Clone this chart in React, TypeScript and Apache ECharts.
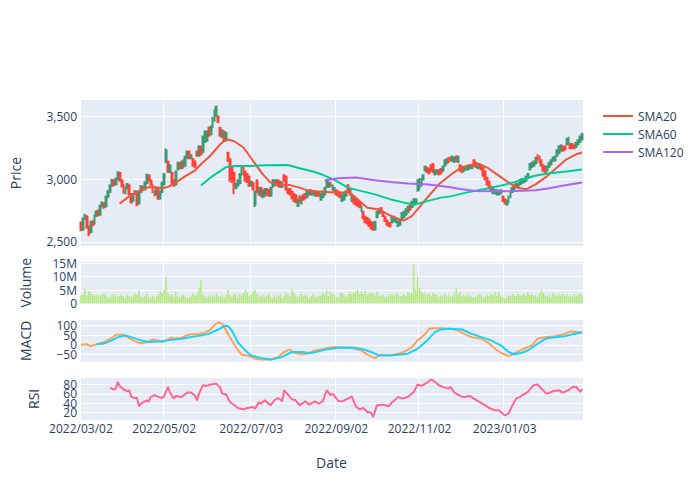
import React, { useEffect, useRef } from "react";
import * as echarts from "echarts";

// ---------- data ----------
const startDate = "2022-03-02"; // first trading day, weekdays only
const tickLabels = ["2022/03/02", "2022/05/02", "2022/07/03", "2022/09/02", "2022/11/02", "2023/01/03"];

// [open, close, low, high]
const ohlc: number[][] = [
  [2650,2600,2585,2665],[2600,2680,2590,2695],[2690,2710,2675,2725],[2700,2620,2605,2715],[2620,2570,2545,2630],
  [2580,2660,2570,2670],[2660,2640,2625,2675],[2650,2710,2640,2720],[2710,2740,2700,2755],[2745,2720,2705,2760],
  [2720,2790,2710,2800],[2790,2810,2775,2825],[2810,2780,2765,2820],[2785,2860,2775,2870],[2860,2900,2850,2915],
  [2900,2950,2890,2960],[2950,2990,2940,3005],[2990,2960,2945,3000],[2960,3000,2950,3015],[3000,3050,2990,3065],
  [3050,2990,2980,3060],[2990,2950,2935,3000],[2950,2900,2885,2960],[2890,2930,2880,2945],[2930,2960,2920,2970],
  [2950,2880,2870,2960],[2880,2820,2805,2890],[2830,2880,2820,2890],[2890,2900,2875,2915],[2900,2800,2785,2910],
  [2810,2900,2800,2910],[2900,2940,2890,2955],[2940,2920,2905,2950],[2920,2970,2910,2985],[2970,3030,2960,3045],
  [3030,2990,2980,3040],[2990,2960,2945,3000],[2950,2900,2890,2960],[2900,2880,2865,2910],[2880,2920,2870,2930],
  [2920,2850,2835,2930],[2850,2900,2840,2910],[2900,2970,2890,2980],[2960,3040,2950,3050],[3140,3230,3130,3245],
  [3140,3060,3050,3150],[3060,3110,3050,3120],[3050,2970,2960,3060],[2990,2950,2940,3000],[2960,3060,2950,3070],
  [3080,3130,3070,3140],[3130,3090,3080,3140],[3090,3140,3080,3150],[3150,3100,3090,3160],[3110,3180,3100,3190],
  [3170,3220,3160,3230],[3220,3170,3160,3230],[3170,3190,3160,3200],[3160,3110,3100,3170],[3140,3100,3090,3150],
  [3220,3190,3180,3230],[3190,3260,3180,3270],[3260,3200,3190,3270],[3220,3340,3210,3350],[3300,3380,3290,3390],
  [3310,3380,3300,3390],[3410,3350,3340,3420],[3360,3420,3350,3430],[3420,3490,3410,3500],[3470,3550,3460,3560],
  [3510,3575,3500,3590],[3500,3460,3450,3510],[3410,3350,3340,3420],[3340,3390,3330,3400],[3380,3310,3300,3390],
  [3310,3370,3300,3380],[3210,3150,3140,3220],[3160,3000,2980,3170],[3090,2990,2970,3100],[3050,2950,2880,3060],
  [2930,2960,2920,2970],[2950,2990,2940,3000],[2970,3040,2960,3050],[3040,3090,3030,3100],[3100,3040,3030,3105],
  [3060,2990,2980,3070],[3040,2980,2970,3050],[3020,2950,2940,3030],[2950,2980,2940,2990],[2970,2920,2910,2980],
  [2800,2900,2780,2910],[2990,2900,2890,3000],[2880,2930,2870,2940],[2930,2870,2860,2940],[2860,2910,2850,2920],
  [2870,2920,2860,2930],[2920,2880,2870,2930],[2910,2870,2860,2920],[2870,2930,2860,2940],[2940,2990,2930,3000],
  [2950,2990,2940,3000],[2960,2990,2950,3000],[2990,2950,2940,3000],[2980,2940,2930,2990],[2940,2970,2930,2980],
  [3030,2990,2980,3040],[3020,2920,2910,3030],[2920,2890,2880,2930],[2920,2880,2870,2930],[2900,2850,2840,2910],
  [2880,2830,2820,2890],[2870,2820,2810,2880],[2790,2840,2780,2850],[2860,2820,2810,2870],[2810,2850,2800,2860],
  [2870,2840,2830,2880],[2880,2850,2840,2890],[2860,2900,2850,2910],[2880,2910,2870,2920],[2910,2880,2870,2920],
  [2880,2900,2870,2910],[2870,2900,2860,2910],[2890,2870,2860,2900],[2890,2870,2860,2900],[2840,2880,2830,2890],
  [2860,2900,2850,2910],[2880,2930,2870,2940],[2940,2990,2930,3000],[2940,2970,2930,2980],[2970,2950,2940,2980],
  [2920,2950,2910,2960],[2910,2930,2900,2940],[2910,2880,2870,2920],[2900,2870,2860,2910],[2890,2860,2850,2900],
  [2830,2870,2820,2880],[2840,2880,2830,2890],[2870,2900,2860,2910],[2950,2900,2890,2960],[2920,2880,2870,2930],
  [2830,2870,2820,2880],[2850,2810,2800,2860],[2840,2800,2790,2850],[2830,2790,2780,2840],[2810,2780,2770,2820],
  [2750,2780,2740,2790],[2740,2690,2680,2750],[2700,2660,2650,2710],[2690,2650,2640,2700],[2680,2630,2620,2690],
  [2660,2610,2600,2670],[2650,2600,2590,2660],[2600,2660,2590,2670],[2700,2740,2690,2750],[2730,2760,2720,2770],
  [2770,2740,2730,2780],[2740,2710,2700,2750],[2700,2670,2660,2710],[2670,2640,2630,2680],[2650,2630,2620,2660],
  [2650,2625,2615,2660],[2660,2700,2650,2710],[2670,2700,2660,2710],[2660,2690,2650,2700],[2630,2660,2620,2670],
  [2640,2670,2630,2680],[2690,2730,2680,2740],[2700,2740,2690,2750],[2720,2760,2710,2770],[2740,2780,2730,2790],
  [2790,2760,2750,2800],[2780,2820,2770,2830],[2800,2840,2790,2850],[2820,2840,2810,2850],[2910,2990,2900,3000],
  [2930,3000,2920,3010],[2950,3000,2940,3010],[3000,3030,2990,3040],[3070,3100,3060,3110],[3090,3060,3050,3100],
  [3080,3050,3040,3090],[3110,3070,3060,3120],[3120,3060,3050,3130],[3040,3070,3030,3080],[3050,3070,3040,3080],
  [3070,3040,3030,3080],[3080,3050,3040,3090],[3070,3100,3060,3110],[3110,3150,3100,3160],[3130,3160,3120,3170],
  [3170,3140,3130,3180],[3170,3150,3140,3180],[3150,3180,3140,3190],[3140,3170,3130,3180],[3180,3150,3140,3190],
  [3140,3180,3130,3190],[3110,3070,3060,3120],[3100,3060,3050,3110],[3070,3090,3060,3100],[3080,3100,3070,3110],
  [3080,3100,3070,3110],[3090,3110,3080,3120],[3090,3110,3080,3120],[3150,3110,3100,3160],[3130,3100,3090,3140],
  [3090,3120,3080,3130],[3100,3120,3090,3130],[3110,3080,3070,3120],[3090,3030,3020,3100],[3060,3000,2990,3070],
  [3010,2960,2950,3020],[2980,2930,2920,2990],[2940,2910,2900,2950],[2890,2920,2880,2930],[2890,2910,2880,2920],
  [2880,2910,2870,2920],[2880,2900,2870,2910],[2890,2910,2880,2920],[2860,2830,2820,2870],[2840,2810,2800,2850],
  [2800,2830,2790,2840],[2820,2860,2810,2870],[2860,2900,2850,2910],[2900,2930,2890,2940],[2920,2950,2910,2960],
  [2960,2940,2930,2970],[2940,2960,2930,2970],[2960,2990,2950,3000],[2970,3000,2960,3010],[2980,3000,2970,3010],
  [2990,3020,2980,3030],[3010,3040,3000,3050],[3080,3120,3070,3130],[3100,3130,3090,3140],[3110,3140,3100,3150],
  [3130,3170,3120,3180],[3190,3160,3150,3200],[3180,3140,3130,3190],[3150,3110,3100,3160],[3110,3070,3060,3120],
  [3100,3060,3050,3110],[3070,3100,3060,3110],[3100,3130,3090,3140],[3120,3150,3110,3160],[3150,3170,3140,3180],
  [3150,3180,3140,3190],[3190,3230,3180,3240],[3210,3260,3200,3270],[3230,3270,3220,3280],[3260,3230,3220,3270],
  [3260,3240,3230,3270],[3280,3320,3270,3330],[3290,3330,3280,3340],[3280,3250,3240,3290],[3280,3250,3240,3290],
  [3270,3250,3240,3280],[3260,3290,3250,3300],[3280,3310,3270,3320],[3300,3340,3290,3350],[3320,3360,3310,3370],
];

// volume, millions
const volumeM = [
  3.1,3.4,5.5,3.0,4.6,3.9,3.5,2.8,3.2,2.6, 3.0,3.3,3.6,2.9,2.4,2.2,3.1,3.5,2.7,2.5,
  2.9,3.2,2.6,2.0,3.3,2.8,2.4,2.9,3.8,3.2, 4.9,2.5,2.3,2.7,3.6,2.4,2.1,2.8,2.2,2.6,
  3.4,4.8,4.0,5.0,10.0,3.8,2.9,3.5,2.4,4.3, 2.6,2.2,2.9,3.1,2.4,2.0,2.2,2.6,3.7,2.9,
  3.4,5.8,9.0,3.2,2.6,2.1,3.1,2.5,3.0,2.7, 3.6,2.8,2.4,3.1,2.2,3.3,5.2,3.0,2.6,3.8,
  3.2,2.1,3.5,2.8,3.9,5.1,4.3,2.7,3.4,4.6, 5.1,3.6,2.4,3.0,3.3,2.5,2.9,3.7,2.6,2.1,
  3.0,2.4,2.8,3.4,2.2,2.9,4.0,3.1,2.6,5.3, 4.2,3.0,2.4,2.9,3.6,2.7,3.2,2.5,2.0,2.6,
  3.3,2.7,2.2,2.9,3.1,4.1,3.5,5.0,2.8,4.3, 3.6,3.1,2.4,2.2,3.8,3.9,3.2,2.5,3.5,4.2,
  3.5,4.0,4.6,5.0,3.6,4.4,3.3,4.7,3.0,3.8, 3.6,3.9,3.2,4.5,3.1,2.7,3.4,2.5,3.0,2.8,
  3.6,3.3,2.9,3.7,3.2,2.6,3.0,3.5,2.9,4.3, 3.7,3.9,14.7,5.2,10.2,5.8,4.4,3.5,4.0,3.3,
  3.6,2.7,3.9,3.4,3.2,2.5,3.0,2.7,3.5,2.9, 3.2,2.5,2.8,3.6,5.7,3.3,4.6,2.6,3.1,2.8,
  3.3,3.0,2.4,2.2,2.5,3.0,3.4,2.9,2.3,2.6, 3.1,2.7,3.8,3.2,4.3,2.8,4.5,3.0,2.4,2.0,
  2.3,2.9,2.7,3.4,3.1,2.8,3.6,2.9,3.3,3.5, 2.9,4.1,3.2,3.4,2.7,3.2,2.3,3.8,5.1,4.0,
  3.1,2.9,3.3,2.5,4.1,3.4,2.7,3.8,3.0,3.6, 2.8,3.3,2.6,3.1,2.4,3.5,2.7,3.2,3.9,3.1,
];

// [trading-day index, value]
const sma20 = [
  [20,2806],[24,2854],[30,2906],[34,2934],[38,2938],[42,2928],[45,2940],[49,2974],[54,3026],[59,3072],
  [62,3120],[67,3190],[72,3280],[75,3320],[79,3306],[84,3254],[89,3146],[94,3040],[98,2974],[103,2954],
  [108,2954],[113,2934],[118,2906],[123,2902],[127,2898],[131,2894],[135,2894],[138,2904],[142,2854],[145,2814],
  [148,2774],[154,2760],[157,2734],[162,2694],[167,2672],[171,2706],[174,2760],[179,2854],[185,2960],[191,3035],
  [196,3090],[201,3114],[206,3120],[210,3094],[215,3040],[220,2986],[225,2934],[230,2920],[235,2960],[241,3026],
  [246,3094],[251,3160],[256,3200],[259,3214],
];
const sma60 = [
  [62,2950],[68,3026],[75,3098],[79,3106],[87,3106],[96,3112],[107,3114],[113,3088],[120,3062],[125,3036],
  [131,2995],[138,2934],[145,2906],[152,2880],[160,2840],[167,2814],[173,2800],[179,2826],[186,2854],[191,2864],
  [199,2894],[208,2920],[216,2946],[225,2981],[234,3026],[242,3048],[251,3062],[259,3078],
];
const sma120 = [
  [126,2992],[133,3008],[142,3014],[152,2992],[160,2978],[169,2966],[178,2960],[186,2946],[191,2936],[196,2922],
  [204,2906],[213,2904],[225,2906],[235,2912],[242,2928],[251,2954],[259,2974],
];
const macd = [
  [0,0],[3,2],[5,-7],[9,5],[12,14],[16,35],[18,52],[21,54],[24,40],[27,23],[30,10],[32,9],[35,17],[37,28],
  [40,23],[42,14],[45,28],[47,38],[48,31],[52,37],[56,54],[61,57],[64,63],[67,80],[69,105],[71,118],[73,110],
  [75,75],[77,40],[80,-12],[83,-52],[86,-56],[90,-73],[93,-78],[98,-78],[102,-64],[105,-38],[108,-24],[110,-42],
  [114,-50],[117,-47],[121,-30],[126,-21],[130,-12],[135,-14],[140,-17],[145,-30],[148,-52],[152,-70],[155,-52],
  [160,-56],[164,-47],[167,-38],[171,-12],[174,23],[178,57],[180,84],[183,87],[186,87],[191,84],[195,75],
  [198,57],[202,40],[207,31],[210,14],[214,-21],[217,-42],[221,-59],[222,-56],[226,-35],[229,-21],[233,-3],
  [236,31],[240,40],[245,45],[250,57],[253,70],[257,66],[259,66],
];
const macdSignal = [
  [8,2],[12,7],[16,23],[19,40],[23,49],[26,40],[31,23],[35,14],[40,17],[45,23],[52,31],[59,44],[66,57],[71,80],
  [74,98],[76,98],[78,75],[81,14],[85,-30],[88,-56],[93,-70],[98,-78],[104,-64],[109,-38],[114,-38],[119,-44],
  [126,-26],[133,-16],[140,-14],[145,-21],[150,-38],[154,-56],[159,-56],[164,-52],[169,-47],[174,-21],[179,23],
  [183,66],[186,80],[191,84],[197,80],[202,57],[207,40],[212,23],[217,-3],[221,-38],[224,-50],[228,-42],
  [231,-30],[236,5],[240,31],[245,40],[250,45],[255,57],[259,66],
];
const rsi = [
  [15,73.6],[17,69.3],[18,71.4],[19,85.7],[20,77.1],[22,70],[24,65.7],[25,67.9],[26,53.6],[28,51.4],[29,51.4],
  [30,33.6],[31,39.3],[33,44.3],[34,46.4],[35,42.9],[36,53.6],[38,57.1],[40,53.6],[42,51.4],[43,55.7],[45,75],
  [46,62.9],[48,50],[49,55.7],[52,53.6],[55,62.9],[57,62.9],[59,55.7],[60,46.4],[61,60.7],[63,78.6],[65,77.1],
  [67,80],[70,82.1],[72,72.9],[73,60.7],[75,58.6],[77,42.9],[80,33.6],[81,30],[84,27.1],[86,30],[89,32.1],
  [90,28.6],[92,42.9],[93,39.3],[95,46.4],[97,39.3],[98,35.7],[100,46.4],[102,51.4],[104,44.3],[105,67.9],
  [107,58.6],[109,48.6],[111,46.4],[113,35.7],[116,44.3],[118,37.1],[121,44.3],[123,39.3],[125,44.3],[127,67.9],
  [129,57.1],[130,60.7],[133,45],[135,44.3],[138,50],[140,55],[142,33.6],[144,27.1],[146,30],[148,21.4],[150,20],
  [151,10.7],[153,35.7],[156,37.1],[159,33.6],[161,42.9],[164,53.6],[166,50],[169,53.6],[172,64.3],[174,80],
  [176,77.1],[178,82.1],[179,84.3],[181,90.7],[183,85.7],[185,78.6],[187,75],[190,71.4],[191,75],[193,62.9],
  [196,55.7],[198,53.6],[201,55.7],[203,50],[206,42.9],[209,35.7],[211,30],[214,25],[216,25],[219,14.3],
  [221,17.9],[223,35.7],[225,50],[227,53.6],[228,57.1],[231,64.3],[234,78.6],[236,80],[240,62.9],[241,60.7],
  [244,65.7],[247,67.9],[249,62.9],[252,67.9],[254,75],[256,75],[258,64.3],[259,70],
];

// ---------- helpers ----------
function tradingDays(start: string, n: number): string[] {
  const out: string[] = [];
  const d = new Date(start + "T00:00:00Z");
  while (out.length < n) {
    const wd = d.getUTCDay();
    if (wd !== 0 && wd !== 6) {
      out.push(
        `${d.getUTCFullYear()}/${String(d.getUTCMonth() + 1).padStart(2, "0")}/${String(d.getUTCDate()).padStart(2, "0")}`
      );
    }
    d.setUTCDate(d.getUTCDate() + 1);
  }
  return out;
}

const FONT = '"Open Sans", verdana, arial, sans-serif';
const INK = "#2a3f5f";

export default function App() {
  const ref = useRef<HTMLDivElement>(null);

  useEffect(() => {
    document.body.style.margin = "0";
    const el = ref.current;
    if (!el) return;
    const chart = echarts.init(el, null, { renderer: "svg" });

    const dates = tradingDays(startDate, ohlc.length);
    const tickMap = new Map<number, string>();
    tickLabels.forEach((t) => {
      const i = dates.findIndex((d) => d >= t);
      if (i >= 0) tickMap.set(i, t);
    });
    const isTick = (i: number) => tickMap.has(i);

    const gridBox = [
      { top: 100, height: 146 },
      { top: 262, height: 41.5 },
      { top: 320, height: 41.7 },
      { top: 378, height: 41.7 },
    ];
    const grids = gridBox.map((g) => ({
      left: 80,
      width: 503,
      top: g.top,
      height: g.height,
      show: true,
      backgroundColor: "#E5ECF6",
      borderWidth: 0,
      containLabel: false,
      outerBoundsMode: "none",
    }));

    const xAxes = [0, 1, 2, 3].map((i) => ({
      type: "category",
      gridIndex: i,
      data: dates,
      boundaryGap: true,
      axisLine: { show: false },
      axisTick: { show: false },
      axisLabel: {
        show: i === 3,
        interval: (idx: number) => isTick(idx),
        formatter: (_v: string, idx: number) => tickMap.get(idx) ?? "",
        color: INK,
        fontSize: 12,
        fontFamily: FONT,
        margin: 3,
      },
      splitLine: { show: true, interval: (idx: number) => isTick(idx), lineStyle: { color: "#ffffff", width: 1 } },
      name: i === 3 ? "Date" : "",
      nameLocation: "middle",
      nameGap: 36,
      nameTextStyle: { color: INK, fontSize: 14, fontFamily: FONT },
    }));

    const yCommon = (gridIndex: number, name: string, nameGap: number) => ({
      type: "value",
      gridIndex,
      name,
      nameLocation: "middle",
      nameGap,
      nameTextStyle: { color: INK, fontSize: 14, fontFamily: FONT },
      axisLine: { show: false },
      axisTick: { show: false },
      splitLine: { show: true, showMinLine: false, showMaxLine: false, lineStyle: { color: "#ffffff", width: 1 } },
    });

    const yAxes = [
      {
        ...yCommon(0, "Price", 58),
        min: 2468,
        max: 3633,
        splitNumber: 2,
        axisLabel: {
          color: INK, fontSize: 12, fontFamily: FONT, margin: 3,
          showMinLabel: false, showMaxLabel: false,
          formatter: (v: number) => v.toLocaleString("en-US"),
        },
      },
      {
        ...yCommon(1, "Volume", 48),
        min: 0,
        max: 15.5,
        interval: 5,
        axisLabel: {
          color: INK, fontSize: 12, fontFamily: FONT, margin: 3,
          showMaxLabel: false,
          formatter: (v: number) => (v === 0 ? "0" : `${v}M`),
        },
      },
      {
        ...yCommon(2, "MACD", 48),
        min: -89,
        max: 130,
        splitNumber: 4,
        axisLabel: {
          color: INK, fontSize: 12, fontFamily: FONT, margin: 3,
          showMinLabel: false, showMaxLabel: false,
          formatter: (v: number) => String(v).replace("-", "\u2212"),
        },
      },
      {
        ...yCommon(3, "RSI", 40),
        min: 5,
        max: 94,
        splitNumber: 4,
        axisLabel: {
          color: INK, fontSize: 12, fontFamily: FONT, margin: 3,
          showMinLabel: false, showMaxLabel: false,
        },
      },
    ];

    const line = (name: string, data: number[][], color: string, axis: number) => ({
      name,
      type: "line",
      xAxisIndex: axis,
      yAxisIndex: axis,
      data,
      symbol: "none",
      showSymbol: false,
      lineStyle: { color, width: 2 },
      itemStyle: { color },
      z: 3,
    });

    chart.setOption({
      animation: false,
      textStyle: { fontFamily: FONT },
      grid: grids,
      xAxis: xAxes,
      yAxis: yAxes,
      legend: {
        data: ["SMA20", "SMA60", "SMA120"],
        orient: "vertical",
        left: 598,
        top: 104,
        icon: "rect",
        itemWidth: 30,
        itemHeight: 2,
        itemGap: 4,
        textStyle: { color: INK, fontSize: 12, fontFamily: FONT, lineHeight: 14 },
      },
      series: [
        {
          name: "Price",
          type: "candlestick",
          xAxisIndex: 0,
          yAxisIndex: 0,
          data: ohlc,
          barWidth: 1.4,
          itemStyle: {
            color: "rgba(61,153,112,0.5)",
            color0: "rgba(255,65,54,0.5)",
            borderColor: "#3D9970",
            borderColor0: "#FF4136",
            borderWidth: 2,
          },
        },
        line("SMA20", sma20, "#EF553B", 0),
        line("SMA60", sma60, "#00CC96", 0),
        line("SMA120", sma120, "#AB63FA", 0),
        {
          name: "Volume",
          type: "bar",
          xAxisIndex: 1,
          yAxisIndex: 1,
          data: volumeM,
          barWidth: "80%",
          itemStyle: { color: "#B6E880" },
        },
        line("MACD", macd, "#FFA15A", 2),
        line("Signal", macdSignal, "#19D3F3", 2),
        line("RSI", rsi, "#FF6692", 3),
      ],
    });

    return () => chart.dispose();
  }, []);

  return <div ref={ref} style={{ position: "absolute", left: 0, top: 0, width: 700, height: 500 }} />;
}
